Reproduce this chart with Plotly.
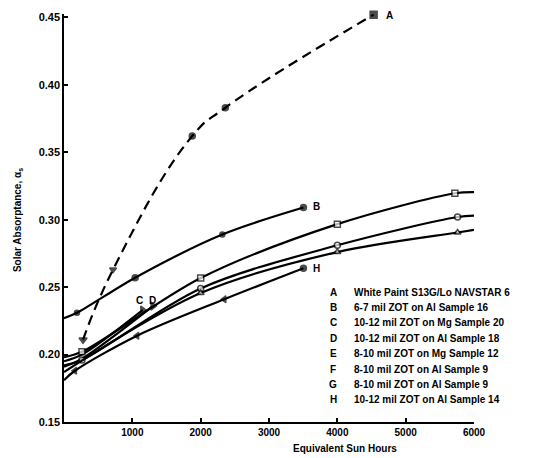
import plotly.graph_objects as go

# Solar absorptance vs. equivalent sun hours for white paint and ZOT coatings
a_hours = [279, 718, 1877, 2361, 4531]
a_alpha = [0.211, 0.263, 0.362, 0.383, 0.452]

b_hours = [0, 190, 1041, 2317, 3504]
b_alpha = [0.227, 0.231, 0.257, 0.289, 0.309]

c_hours = [0, 263, 1150]
c_alpha = [0.195, 0.200, 0.233]

d_hours = [0, 263, 1300]
d_alpha = [0.191, 0.197, 0.236]

e_hours = [0, 263, 2000, 4000, 5720, 6000]
e_alpha = [0.198, 0.202, 0.2567, 0.2967, 0.3196, 0.3205]

f_hours = [0, 263, 2000, 4000, 5760, 6000]
f_alpha = [0.192, 0.196, 0.249, 0.281, 0.302, 0.303]

g_hours = [0, 2000, 4000, 5760, 6000]
g_alpha = [0.187, 0.2456, 0.276, 0.2905, 0.2925]

h_hours = [0, 160, 1070, 2346, 3504]
h_alpha = [0.181, 0.188, 0.214, 0.241, 0.264]

legend_letters = ["A", "B", "C", "D", "E", "F", "G", "H"]
legend_texts = [
    "White Paint S13G/Lo NAVSTAR 6",
    "6-7 mil ZOT on Al Sample 16",
    "10-12 mil ZOT on Mg Sample 20",
    "10-12 mil ZOT on Al Sample 18",
    "8-10 mil ZOT on Mg Sample 12",
    "8-10 mil ZOT on Al Sample 9",
    "8-10 mil ZOT on Al Sample 9",
    "10-12 mil ZOT on Al Sample 14",
]

x_ticks = [1000, 2000, 3000, 4000, 5000, 6000]
y_ticks = [0.15, 0.20, 0.25, 0.30, 0.35, 0.40, 0.45]

FONT = "Liberation Sans, Arial, sans-serif"
INK = "black"

fig = go.Figure()


def curve(x, y, symbols, sizes, dash="solid", open_marks=False, smoothing=0.9):
    fig.add_trace(go.Scatter(
        x=x, y=y, mode="lines+markers",
        line=dict(color=INK, width=2.2, shape="spline", smoothing=smoothing, dash=dash),
        marker=dict(
            symbol=symbols, size=sizes,
            color="white" if open_marks else INK,
            line=dict(color=INK, width=1.5),
        ),
        cliponaxis=False, showlegend=False, hoverinfo="x+y",
    ))


curve(a_hours, a_alpha,
      ["triangle-down", "triangle-down", "circle", "circle", "square"],
      [7, 6, 6, 6, 7], dash="10px,6px", smoothing=1.3)
curve(b_hours, b_alpha, ["circle"] * 5, [0, 5, 6, 5, 6])
curve(c_hours, c_alpha, ["triangle-right"] * 3, [0, 0, 7])
curve(d_hours, d_alpha, ["triangle-right"] * 3, [0, 0, 7])
curve(e_hours, e_alpha, ["square"] * 6, [0, 6, 6, 6, 6, 0], open_marks=True)
curve(f_hours, f_alpha, ["circle"] * 6, [0, 6, 6, 6, 6, 0], open_marks=True)
curve(g_hours, g_alpha, ["triangle-up"] * 5, [0, 6, 6, 6, 0], open_marks=True)
curve(h_hours, h_alpha, ["triangle-left", "triangle-left", "triangle-left", "triangle-left", "circle"],
      [0, 6, 6, 6, 6])

# Curve end labels
curve_labels = [
    ("A", 4765, 0.4515), ("B", 3690, 0.310), ("C", 1100, 0.2404),
    ("D", 1290, 0.2404), ("E", 6140, 0.321), ("F", 6140, 0.305),
    ("G", 6140, 0.2915), ("H", 3700, 0.264),
]
annotations = []
for txt, x, y in curve_labels:
    annotations.append(dict(x=x, y=y, text=txt, showarrow=False, xanchor="center",
                            yanchor="middle", font=dict(size=10)))

# Key listing the samples
row_top = 0.2463
row_step = 0.01141
for i, (letter, label) in enumerate(zip(legend_letters, legend_texts)):
    y = row_top - i * row_step
    annotations.append(dict(x=3937, y=y, text=letter, showarrow=False,
                            xanchor="center", yanchor="middle", font=dict(size=10)))
    annotations.append(dict(x=4215, y=y, text=label, showarrow=False,
                            xanchor="left", yanchor="middle", font=dict(size=10)))

annotations.append(dict(xref="paper", yref="paper", x=-0.112, y=0.495,
                        text="Solar Absorptance, α<sub>s</sub>", textangle=-90,
                        showarrow=False, xanchor="center", yanchor="middle",
                        font=dict(size=10)))
annotations.append(dict(xref="paper", yref="paper", x=0.685, y=-0.064,
                        text="Equivalent Sun Hours", showarrow=False,
                        xanchor="center", yanchor="middle", font=dict(size=10)))

fig.update_layout(
    width=536, height=458,
    margin=dict(l=64, r=62, t=14, b=36),
    paper_bgcolor="white", plot_bgcolor="white",
    font=dict(family=FONT, size=10, color=INK, weight="bold"),
    annotations=annotations,
    xaxis=dict(
        range=[0, 6000], tickvals=x_ticks, ticktext=[str(v) for v in x_ticks],
        showgrid=False, zeroline=False, showline=True, linecolor=INK, linewidth=1.5,
        ticks="inside", ticklen=4, tickwidth=1.5, tickcolor=INK,
        tickfont=dict(size=10), fixedrange=True,
    ),
    yaxis=dict(
        range=[0.15, 0.4525], tickvals=y_ticks, ticktext=[f"{v:.2f}" for v in y_ticks],
        showgrid=False, zeroline=False, showline=True, linecolor=INK, linewidth=1.5,
        ticks="inside", ticklen=4, tickwidth=1.5, tickcolor=INK,
        tickfont=dict(size=11), fixedrange=True,
    ),
)

fig.write_html("out.html")
